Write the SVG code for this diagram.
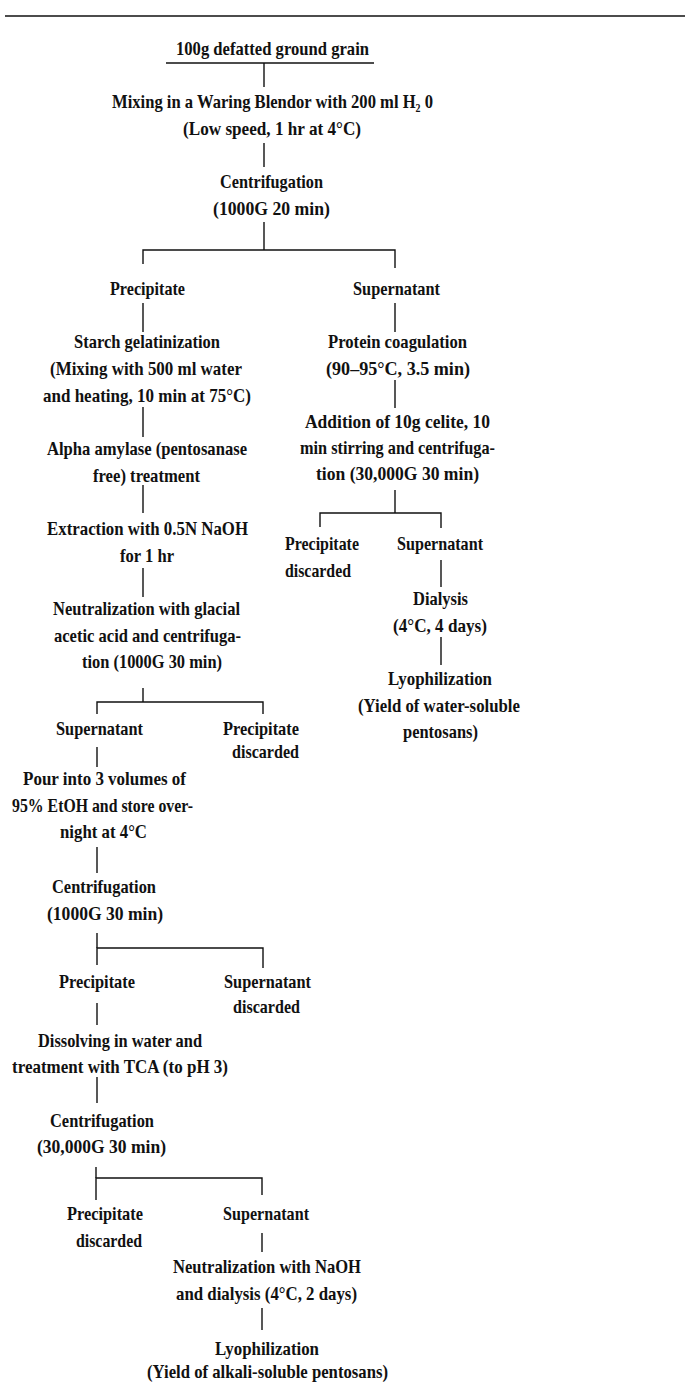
<svg xmlns="http://www.w3.org/2000/svg" width="685" height="1383" viewBox="0 0 685 1383">
<style>
text{font-family:"Liberation Serif","Times New Roman",serif;font-size:19px;font-weight:bold;fill:#111;text-anchor:middle}
.c line,.c path{stroke:#111;stroke-width:1.4;fill:none}
</style>
<rect width="685" height="1383" fill="#fff"/>
<g class="c" id="connectors">
<line x1="5" y1="16" x2="685" y2="16"/>
<line x1="166" y1="63" x2="374" y2="63"/>
<line x1="264" y1="63" x2="264" y2="87"/>
<line x1="264" y1="143" x2="264" y2="167"/>
<line x1="264" y1="222" x2="264" y2="250"/>
<path d="M143 264V250H395V268"/>
<line x1="143" y1="303" x2="143" y2="332"/>
<line x1="143" y1="407" x2="143" y2="437"/>
<line x1="143" y1="485" x2="143" y2="513"/>
<line x1="143" y1="568" x2="143" y2="597"/>
<line x1="143" y1="688" x2="143" y2="702"/>
<path d="M97 714V702H263V714"/>
<line x1="97" y1="747" x2="97" y2="767"/>
<line x1="97" y1="847" x2="97" y2="873"/>
<line x1="97" y1="933" x2="97" y2="948"/>
<path d="M97 965V948H263V968"/>
<line x1="97" y1="1003" x2="97" y2="1025"/>
<line x1="97" y1="1077" x2="97" y2="1103"/>
<line x1="96" y1="1167" x2="96" y2="1178"/>
<path d="M96 1200V1178H262V1195"/>
<line x1="262" y1="1233" x2="262" y2="1252"/>
<line x1="262" y1="1308" x2="262" y2="1330"/>
<line x1="395" y1="303" x2="395" y2="332"/>
<line x1="395" y1="380" x2="395" y2="408"/>
<line x1="395" y1="490" x2="395" y2="513"/>
<path d="M320 527V513H441V528"/>
<line x1="441" y1="560" x2="441" y2="587"/>
<line x1="441" y1="637" x2="441" y2="665"/>
</g>
<g id="n_grain"><text x="272.5" y="55" textLength="193" lengthAdjust="spacingAndGlyphs">100g defatted ground grain</text></g>
<g id="n_mixing"><text x="272.5" y="108" textLength="321" lengthAdjust="spacingAndGlyphs">Mixing in a Waring Blendor with 200 ml H₂ 0</text>
<text x="272" y="135" textLength="178" lengthAdjust="spacingAndGlyphs">(Low speed, 1 hr at 4°C)</text></g>
<g id="n_centrif1"><text x="271.5" y="188" textLength="103" lengthAdjust="spacingAndGlyphs">Centrifugation</text>
<text x="271.5" y="215" textLength="117" lengthAdjust="spacingAndGlyphs">(1000G 20 min)</text></g>
<g id="n_precip1"><text x="147.5" y="295" textLength="75" lengthAdjust="spacingAndGlyphs">Precipitate</text></g>
<g id="n_super1"><text x="396.5" y="295" textLength="87" lengthAdjust="spacingAndGlyphs">Supernatant</text></g>
<g id="n_starch"><text x="147" y="348" textLength="146" lengthAdjust="spacingAndGlyphs">Starch gelatinization</text>
<text x="146" y="375" textLength="192" lengthAdjust="spacingAndGlyphs">(Mixing with 500 ml water</text>
<text x="147" y="402" textLength="208" lengthAdjust="spacingAndGlyphs">and heating, 10 min at 75°C)</text></g>
<g id="n_amylase"><text x="147" y="455" textLength="200" lengthAdjust="spacingAndGlyphs">Alpha amylase (pentosanase</text>
<text x="146.5" y="482" textLength="107" lengthAdjust="spacingAndGlyphs">free) treatment</text></g>
<g id="n_extraction"><text x="147.5" y="535" textLength="201" lengthAdjust="spacingAndGlyphs">Extraction with 0.5N NaOH</text>
<text x="147" y="562" textLength="54" lengthAdjust="spacingAndGlyphs">for 1 hr</text></g>
<g id="n_neutral1"><text x="146.5" y="615" textLength="187" lengthAdjust="spacingAndGlyphs">Neutralization with glacial</text>
<text x="147.5" y="642" textLength="187" lengthAdjust="spacingAndGlyphs">acetic acid and centrifuga-</text>
<text x="152" y="668" textLength="140" lengthAdjust="spacingAndGlyphs">tion (1000G 30 min)</text></g>
<g id="n_super2"><text x="99.5" y="735" textLength="87" lengthAdjust="spacingAndGlyphs">Supernatant</text></g>
<g id="n_precip2"><text x="261" y="735" textLength="76" lengthAdjust="spacingAndGlyphs">Precipitate</text>
<text x="265.5" y="758" textLength="67" lengthAdjust="spacingAndGlyphs">discarded</text></g>
<g id="n_pour"><text x="104.5" y="785" textLength="163" lengthAdjust="spacingAndGlyphs">Pour into 3 volumes of</text>
<text x="102.5" y="812" textLength="181" lengthAdjust="spacingAndGlyphs">95% EtOH and store over-</text>
<text x="103.5" y="838" textLength="87" lengthAdjust="spacingAndGlyphs">night at 4°C</text></g>
<g id="n_centrif2"><text x="104" y="893" textLength="104" lengthAdjust="spacingAndGlyphs">Centrifugation</text>
<text x="105" y="920" textLength="116" lengthAdjust="spacingAndGlyphs">(1000G 30 min)</text></g>
<g id="n_precip3"><text x="97" y="988" textLength="76" lengthAdjust="spacingAndGlyphs">Precipitate</text></g>
<g id="n_super3"><text x="267.5" y="988" textLength="87" lengthAdjust="spacingAndGlyphs">Supernatant</text>
<text x="266.5" y="1013" textLength="67" lengthAdjust="spacingAndGlyphs">discarded</text></g>
<g id="n_dissolve"><text x="120" y="1047" textLength="164" lengthAdjust="spacingAndGlyphs">Dissolving in water and</text>
<text x="120" y="1073" textLength="216" lengthAdjust="spacingAndGlyphs">treatment with TCA (to pH 3)</text></g>
<g id="n_centrif3"><text x="102" y="1127" textLength="104" lengthAdjust="spacingAndGlyphs">Centrifugation</text>
<text x="101.5" y="1153" textLength="129" lengthAdjust="spacingAndGlyphs">(30,000G 30 min)</text></g>
<g id="n_precip4"><text x="105" y="1220" textLength="76" lengthAdjust="spacingAndGlyphs">Precipitate</text>
<text x="109" y="1247" textLength="66" lengthAdjust="spacingAndGlyphs">discarded</text></g>
<g id="n_super4"><text x="266" y="1220" textLength="86" lengthAdjust="spacingAndGlyphs">Supernatant</text></g>
<g id="n_neutral2"><text x="267" y="1273" textLength="188" lengthAdjust="spacingAndGlyphs">Neutralization with NaOH</text>
<text x="266.5" y="1300" textLength="181" lengthAdjust="spacingAndGlyphs">and dialysis (4°C, 2 days)</text></g>
<g id="n_lyo2"><text x="267" y="1355" textLength="104" lengthAdjust="spacingAndGlyphs">Lyophilization</text>
<text x="267.5" y="1378" textLength="241" lengthAdjust="spacingAndGlyphs">(Yield of alkali-soluble pentosans)</text></g>
<g id="n_protein"><text x="397.5" y="348" textLength="139" lengthAdjust="spacingAndGlyphs">Protein coagulation</text>
<text x="398" y="375" textLength="144" lengthAdjust="spacingAndGlyphs">(90–95°C, 3.5 min)</text></g>
<g id="n_celite"><text x="397.5" y="428" textLength="185" lengthAdjust="spacingAndGlyphs">Addition of 10g celite, 10</text>
<text x="397.5" y="454" textLength="195" lengthAdjust="spacingAndGlyphs">min stirring and centrifuga-</text>
<text x="397.5" y="480" textLength="163" lengthAdjust="spacingAndGlyphs">tion (30,000G 30 min)</text></g>
<g id="n_precip5"><text x="322" y="550" textLength="74" lengthAdjust="spacingAndGlyphs">Precipitate</text>
<text x="318" y="577" textLength="66" lengthAdjust="spacingAndGlyphs">discarded</text></g>
<g id="n_super5"><text x="440" y="550" textLength="86" lengthAdjust="spacingAndGlyphs">Supernatant</text></g>
<g id="n_dialysis"><text x="440.5" y="605" textLength="55" lengthAdjust="spacingAndGlyphs">Dialysis</text>
<text x="440" y="632" textLength="94" lengthAdjust="spacingAndGlyphs">(4°C, 4 days)</text></g>
<g id="n_lyo1"><text x="440" y="685" textLength="104" lengthAdjust="spacingAndGlyphs">Lyophilization</text>
<text x="439" y="712" textLength="162" lengthAdjust="spacingAndGlyphs">(Yield of water-soluble</text>
<text x="440.5" y="738" textLength="75" lengthAdjust="spacingAndGlyphs">pentosans)</text></g>
</svg>
